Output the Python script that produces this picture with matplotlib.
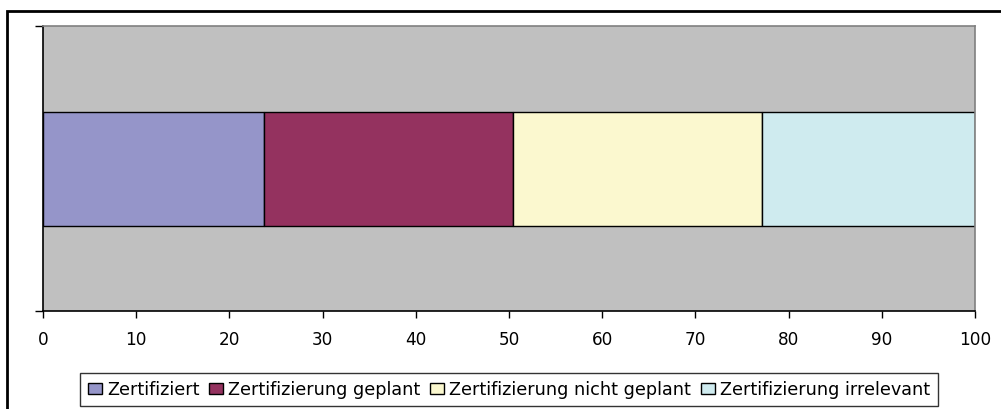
import matplotlib
matplotlib.use("Agg")
import matplotlib.pyplot as plt
from matplotlib.patches import Rectangle

plt.rcParams['font.family'] = ['DejaVu Sans']

categories = ["Zertifiziert", "Zertifizierung geplant",
              "Zertifizierung nicht geplant", "Zertifizierung irrelevant"]
values = [23.7, 26.7, 26.7, 22.9]
colors = ["#9595C9", "#94325F", "#FBF8CF", "#CFEBEF"]
xticks = list(range(0, 101, 10))

W, H = 1001, 410
fig = plt.figure(figsize=(W / 100, H / 100), dpi=100)
fig.patch.set_facecolor("white")

# outer frame
fig.add_artist(Rectangle((7 / W, -0.1), 1.2, (H - 12) / H + 0.1,
                         transform=fig.transFigure, fill=False,
                         edgecolor="black", linewidth=2))

left, right, top, bottom = 43, 975, 27, 312
ax = fig.add_axes([left / W, 1 - bottom / H, (right - left) / W, (bottom - top) / H])
ax.set_facecolor("#C0C0C0")

start = 0
handles = []
for lab, v, c in zip(categories, values, colors):
    h = ax.barh(0, v, left=start, height=0.4, color=c, edgecolor="black",
                linewidth=1, label=lab)
    handles.append(h)
    start += v

ax.set_xlim(0, 100)
ax.set_ylim(-0.5, 0.5)
ax.set_xticks(xticks)
ax.set_xticklabels([str(t) for t in xticks], fontsize=12.2)
ax.set_yticks([-0.5, 0.5])
ax.set_yticklabels([])
ax.tick_params(axis="x", direction="out", length=5, width=1, color="black", pad=9)
ax.tick_params(axis="y", direction="out", length=6, width=1, color="black")

ax.spines["left"].set_color("black")
ax.spines["bottom"].set_color("black")
ax.spines["top"].set_color("#808080")
ax.spines["right"].set_color("#808080")
for s in ax.spines.values():
    s.set_linewidth(1.2)

leg = fig.legend(handles=handles, labels=categories, loc="center",
                 bbox_to_anchor=((75 + 943) / 2 / W, 1 - 390.5 / H),
                 ncol=4, frameon=True, fancybox=False, fontsize=12.7,
                 handlelength=0.8, handleheight=0.63, handletextpad=0.28,
                 columnspacing=0.55, borderpad=0.45, borderaxespad=0)
leg.get_frame().set_edgecolor("black")
leg.get_frame().set_linewidth(1)

fig.savefig("out.png", dpi=100)
